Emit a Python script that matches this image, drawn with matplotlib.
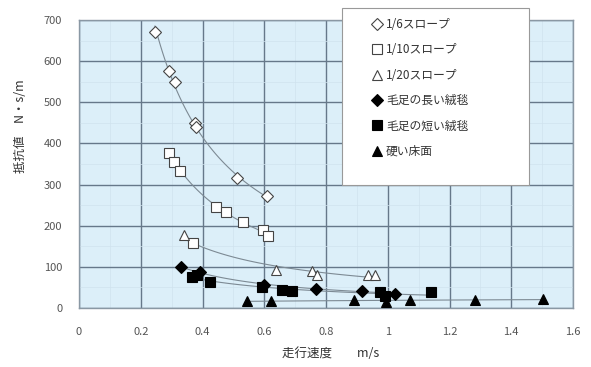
import numpy as np
import matplotlib.pyplot as plt
from matplotlib.patches import Rectangle
from matplotlib.ticker import MultipleLocator, FuncFormatter

plt.rcParams['font.family'] = ['Noto Sans CJK JP', 'DejaVu Sans']

# 走行速度 m/s と 抵抗値 N・s/m
slope6_x = [0.246, 0.292, 0.311, 0.376, 0.378, 0.511, 0.608]
slope6_y = [671, 576, 550, 450, 440, 315, 272]

slope10_x = [0.291, 0.308, 0.327, 0.368, 0.444, 0.476, 0.532, 0.597, 0.611]
slope10_y = [377, 356, 334, 158, 246, 234, 209, 190, 175]
slope10_fit = [1, 1, 1, 0, 1, 1, 1, 1, 1]   # point at 0.368 is off the trend

slope20_x = [0.341, 0.638, 0.754, 0.770, 0.937, 0.959]
slope20_y = [177, 93, 91, 79, 79, 79]

long_x = [0.329, 0.392, 0.599, 0.766, 0.918, 1.023]
long_y = [100, 87, 57, 47, 41, 35]

short_x = [0.366, 0.381, 0.425, 0.594, 0.659, 0.689, 0.975, 0.991, 1.139]
short_y = [75, 81, 64, 50, 43, 42, 39, 28, 38]

hard_x = [0.545, 0.621, 0.891, 0.994, 1.072, 1.283, 1.504]
hard_y = [16, 18, 19, 15, 19, 20, 22]

labels = ['1/6スロープ', '1/10スロープ', '1/20スロープ',
          '毛足の長い絨毯', '毛足の短い絨毯', '硬い床面']

series = [
    (slope6_x, slope6_y, None, 'D', 'white', 6.5),
    (slope10_x, slope10_y, slope10_fit, 's', 'white', 7),
    (slope20_x, slope20_y, None, '^', 'white', 7),
    (long_x, long_y, None, 'D', 'black', 6),
    (short_x, short_y, None, 's', 'black', 6.5),
    (hard_x, hard_y, None, '^', 'black', 6.5),
]

fig = plt.figure(figsize=(5.91, 3.67), dpi=100)
ax = fig.add_axes([79 / 591, 59 / 367, 494 / 591, 288 / 367])
ax.set_facecolor('#dceff9')

# trend lines (power fit) then markers
handles = []
for (xs, ys, fit, m, fc, ms), lab in zip(series, labels):
    xs = np.array(xs)
    ys = np.array(ys)
    sel = np.ones(len(xs), bool) if fit is None else np.array(fit, bool)
    b, a = np.polyfit(np.log(xs[sel]), np.log(ys[sel]), 1)
    xx = np.linspace(xs[sel].min(), xs[sel].max(), 100)
    ax.plot(xx, np.exp(a) * xx ** b, color='#7d8a94', lw=0.8, zorder=2)
    h, = ax.plot(xs, ys, ls='none', marker=m, ms=ms, mfc=fc,
                 mec='#444444' if fc == 'white' else 'black', mew=0.8,
                 zorder=3, label=lab)
    handles.append(h)

ax.set_xlim(0, 1.6)
ax.set_ylim(0, 700)
ax.xaxis.set_major_locator(MultipleLocator(0.2))
ax.yaxis.set_major_locator(MultipleLocator(100))
ax.xaxis.set_minor_locator(MultipleLocator(0.1))
ax.yaxis.set_minor_locator(MultipleLocator(50))
ax.xaxis.set_major_formatter(FuncFormatter(lambda v, p: '%g' % round(v, 1)))
ax.grid(True, which='major', color='#66788a', lw=1.0, zorder=1)
ax.grid(True, which='minor', color='#d0e3ee', lw=0.5, zorder=1)
ax.set_axisbelow(True)
for s in ax.spines.values():
    s.set_color('#8a98a4')
    s.set_linewidth(1.0)
ax.tick_params(which='both', length=0, labelsize=8, colors='#555555')
ax.tick_params(axis='x', pad=14)
ax.tick_params(axis='y', pad=12)

ax.set_xlabel('走行速度　　m/s', fontsize=9, color='#333333')
ax.xaxis.set_label_coords(0.51, -0.135)
ax.set_ylabel('抵抗値　N・s/m', fontsize=9, color='#333333')
ax.yaxis.set_label_coords(-0.105, 0.63)

# legend box (white, sits over the plot top)
fig.patches.append(Rectangle((342 / 591, 1 - 185 / 367), 187 / 591, 177 / 367,
                             transform=fig.transFigure, facecolor='white',
                             edgecolor='#999999', lw=0.8, zorder=5))
leg = fig.legend(handles=handles, loc='upper left',
                 bbox_to_anchor=(366 / 591, 1 - 12 / 367), frameon=False,
                 fontsize=8.5, handlelength=0.8, handletextpad=0.4,
                 labelspacing=1.05, borderpad=0, numpoints=1)
leg.set_zorder(6)
for t in leg.get_texts():
    t.set_color('#333333')

plt.savefig('out.png', dpi=100)
